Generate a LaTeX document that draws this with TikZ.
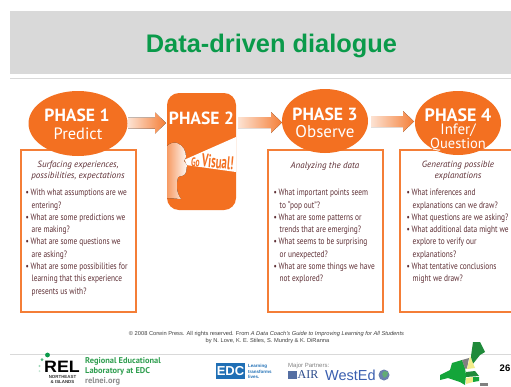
\documentclass[tikz,border=0pt]{standalone}
\usepackage{fontspec}
\setmainfont{Liberation Sans}
\newfontfamily\ptf{PT Sans}
\newfontfamily\ptn[FakeStretch=0.8]{PT Sans}
\newfontfamily\lserif{Liberation Serif}
\usetikzlibrary{shapes.geometric,arrows.meta}
\definecolor{org}{HTML}{F37021}
\definecolor{txt}{HTML}{5E2F35}
\definecolor{grn}{HTML}{0A9A4A}
\definecolor{banner}{HTML}{D9D9D9}
\definecolor{rule}{HTML}{D9D9D9}
\definecolor{lgrn}{HTML}{2F9E4F}
\definecolor{dgrn}{HTML}{1F8A3A}
\definecolor{brgrn}{HTML}{14A53A}
\definecolor{ylw}{HTML}{F2EC8A}
\definecolor{edcb}{HTML}{1F6FB5}
\definecolor{airb}{HTML}{2B4B8C}
\definecolor{wedb}{HTML}{3A5FB0}
\tikzset{
  x=1pt,y=-1pt,
  phase/.style={ellipse,fill=org,inner sep=0pt,minimum width=#1},
  phasebox/.style={draw=org!90,line width=2pt,fill=white},
  head/.style={font=\ptf\itshape\fontsize{9}{11}\selectfont,text=txt,align=center,anchor=center},
  bul/.style={font=\ptn\fontsize{9.2}{12.3}\selectfont,text=txt,align=left,anchor=north west,inner sep=0pt},
  phlab/.style={font=\ptf\bfseries\fontsize{17.6}{18}\selectfont,text=white,anchor=center},
  foot/.style={font=\fontsize{5.7}{6}\selectfont,text=black!75,anchor=center,inner sep=0pt},
}
\newcommand{\flow}[3]{%
  \fill[left color=org!20,right color=org!90] (#1,#2-5.5) -- (#3-11,#2-5.5) -- (#3-11,#2-10.5) -- (#3,#2) -- (#3-11,#2+10.5) -- (#3-11,#2+5.5) -- (#1,#2+5.5) -- cycle;}
\begin{document}
\begin{tikzpicture}
\useasboundingbox (0,0) rectangle (511,386);
\fill[white] (0,0) rectangle (511,386);
\fill[banner] (10,11) rectangle (511,74);
\draw[rule,line width=0.8pt] (10,78.5) -- (511,78.5);
\node[font=\bfseries\fontsize{25.4}{26}\selectfont,text=grn] (title) at (271.5,46) {Data-driven dialogue};
% arrows
\flow{128}{123}{166}
\flow{238}{122.5}{282}
\flow{371}{121.5}{414}
% boxes
\node[phasebox,minimum width=115pt,minimum height=162pt,inner sep=0pt] (b1) at (78,230.5) {};
\node[phasebox,minimum width=115pt,minimum height=162pt,inner sep=0pt] (b3) at (325,230.5) {};
\draw[org!90,line width=2pt,fill=white] (511,149.5) -- (400,149.5) -- (400,312) -- (511,312);
% ellipses
\node[phase=99pt,minimum height=65pt] (p1) at (78,123.5) {};
\node[phase=86pt,minimum height=64pt] (p3) at (325,121) {};
\node[phase=86pt,minimum height=64pt] (p4) at (458,123) {};
\node[phlab] (p1a) at (77,115.7) {PHASE 1};
\node[font=\ptf\fontsize{16.4}{16}\selectfont,text=white] (p1b) at (78,134) {Predict};
\node[phlab] (p3a) at (325,114) {PHASE 3};
\node[font=\ptf\fontsize{17}{17}\selectfont,text=white] (p3b) at (325,131.5) {Observe};
\node[phlab,font=\ptf\bfseries\fontsize{18}{18}\selectfont] (p4a) at (458,115) {PHASE 4};
\node[font=\ptf\fontsize{15}{15}\selectfont,text=white] (p4b) at (458,130) {Infer/};
\node[font=\ptf\fontsize{14.5}{15}\selectfont,text=white] (p4c) at (458,145) {Question};
% phase 2
\fill[org] (167,105) arc[start angle=180,end angle=270,radius=12] -- (224,93) arc[start angle=-90,end angle=0,radius=12] -- (236,198) arc[start angle=0,end angle=90,radius=12] -- (179,210) arc[start angle=90,end angle=180,radius=12] -- cycle;
\node[phlab,font=\ptf\bfseries\fontsize{17.6}{18}\selectfont] (p2a) at (201.5,118) {PHASE 2};
\fill[white] (185,159.5) -- (236,137) -- (236,172) -- (186,165) -- cycle;
\fill[left color=org!70,right color=org!5] (167,146) .. controls (170,143) and (174,142) .. (177,143) .. controls (183,145) and (186,151) .. (186,157) -- (184,161) -- (187,165) -- (186,172) .. controls (185,176) and (181,176) .. (178,177) .. controls (176,184) and (176,192) .. (181,199) -- (167,198) -- cycle;
\node[font=\ptf\bfseries\fontsize{11}{11}\selectfont,text=org,rotate=-5,xscale=.68,yscale=1.15,inner sep=0pt] (go) at (212.5,161.5) {Go {\fontsize{16}{16}\selectfont Visual!}};
% box text
\node[head] (h1) at (78,171) {Surfacing experiences,\\possibilities, expectations};
\node[bul] (t1) at (25.5,189) {•\,With what assumptions are we\\\hspace*{6pt}entering?\\•\,What are some predictions we\\\hspace*{6pt}are making?\\•\,What are some questions we\\\hspace*{6pt}are asking?\\•\,What are some possibilities for\\\hspace*{6pt}learning that this experience\\\hspace*{6pt}presents us with?};
\node[head] (h3) at (325,166) {Analyzing the data};
\node[bul] (t3) at (273.5,189) {•\,What important points seem\\\hspace*{6pt}to “pop out”?\\•\,What are some patterns or\\\hspace*{6pt}trends that are emerging?\\•\,What seems to be  surprising\\\hspace*{6pt}or unexpected?\\•\,What are some things we have\\\hspace*{6pt}not explored?};
\node[head] (h4) at (458,171) {Generating possible\\explanations};
\node[bul] (t4) at (406.5,189) {•\,What inferences and\\\hspace*{6pt}explanations can we draw?\\•\,What questions are we asking?\\•\,What additional data might we\\\hspace*{6pt}explore to verify our\\\hspace*{6pt}explanations?\\•\,What tentative conclusions\\\hspace*{6pt}might we draw?};
% footer
\node[foot] (c1) at (266.5,334.5) {© 2008 Corwin Press. All rights reserved. From \textit{A Data Coach’s Guide to Improving Learning for All Students}};
\node[foot] (c2) at (267.5,341.5) {by N. Love, K. E. Stiles, S. Mundry \& K. DiRanna};
\draw[rule,line width=0.8pt] (10,354.5) -- (511,354.5);
% REL logo
\fill[grn] (47.5,355) circle (2.4);
\fill[grn!70] (42,359.5) circle (1.5);
\fill[grn!40] (39.5,366) circle (1.2);
\fill[grn!25] (39.5,371) circle (1);
\node[font=\bfseries\fontsize{16.5}{16.5}\selectfont,inner sep=0pt,xscale=1.08] (rel) at (62,366.5) {REL};
\node[font=\bfseries\fontsize{4.4}{5.8}\selectfont,align=center,inner sep=0pt,text=black!80] (ne) at (62.5,379.5) {NORTHEAST\\\& ISLANDS};
\node[font=\ptf\bfseries\fontsize{8.4}{10}\selectfont,text=lgrn,anchor=west,inner sep=0pt] (r1) at (85,361) {Regional Educational};
\node[font=\ptf\bfseries\fontsize{8.4}{10}\selectfont,text=lgrn,anchor=west,inner sep=0pt] (r2) at (85,371) {Laboratory at EDC};
\node[font=\ptf\bfseries\fontsize{8.4}{10}\selectfont,text=black!45,anchor=west,inner sep=0pt] (r3) at (85,381.5) {relnei.org};
% EDC logo
\node[fill=edcb,text=white,font=\bfseries\fontsize{13}{13}\selectfont,minimum width=29pt,minimum height=16pt,inner sep=0pt] (edc) at (230.5,371) {EDC};
\node[font=\bfseries\fontsize{4.5}{5.8}\selectfont,text=edcb,align=left,anchor=west,inner sep=0pt] (edc2) at (248,371.5) {Learning\\transforms\\lives.};
\node[font=\fontsize{6}{6}\selectfont,text=black!50,anchor=west,inner sep=0pt] (mp) at (288,366) {Major Partners:};
\fill[airb!80] (288,371) rectangle (296.5,379);
\node[font=\lserif\fontsize{12}{12}\selectfont,text=airb,anchor=west,inner sep=0pt] (air) at (297.5,375) {AIR};
\node[font=\fontsize{14.5}{14.5}\selectfont,text=wedb,anchor=west,inner sep=0pt] (we) at (325,375) {WestEd};
\fill[airb!70] (384,375) circle (5.5);
\fill[dgrn!70] (384,371) -- (388,372) -- (387,376) -- (384,378) -- (382,374) -- cycle;
% map
\fill[dgrn] (473,342) -- (480,342) -- (485,352) -- (480,355) -- (472,365) -- (471,356) -- cycle;
\fill[brgrn] (440,375) -- (450,370) -- (452,363) -- (462,360) -- (465,368) -- (466,375) -- (465,385) -- (460,382) -- (448,378) -- (440,380) -- cycle;
\fill[black!50] (462,360) -- (469,358) -- (467,368.5) -- (465,368.5) -- cycle;
\fill[ylw] (470,356) -- (475,368) -- (467,369) -- cycle;
\fill[dgrn] (466,372) -- (475,371) -- (479,376) -- (466,377) -- cycle;
\fill[ylw] (466,378) -- (473,377) -- (473,382) -- (466,384) -- cycle;
\fill[brgrn] (473,377) -- (479,377) -- (479,381) -- (473,382) -- cycle;
\fill[black!50] (480,383) -- (488,383) -- (488,385.5) -- (480,385.5) -- cycle;
\node[font=\bfseries\fontsize{9.5}{9.5}\selectfont,inner sep=0pt] (num) at (505,368.5) {26};
\end{tikzpicture}
\end{document}
